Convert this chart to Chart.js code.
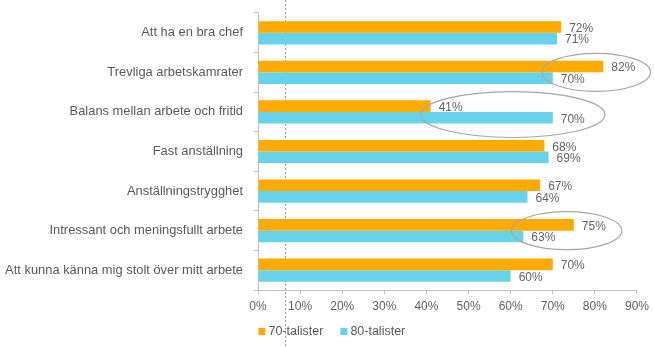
<!DOCTYPE html>
<html>
<head>
<meta charset="utf-8">
<script src="https://cdn.jsdelivr.net/npm/chart.js@4.4.0/dist/chart.umd.min.js"></script>
<style>
html,body{margin:0;padding:0;background:#fff;}
#wrap{width:654px;height:347px;position:relative;}
</style>
</head>
<body>
<div id="wrap"><canvas id="c"></canvas></div>
<script>
// ---- data ----
const categories = [
  'Att ha en bra chef',
  'Trevliga arbetskamrater',
  'Balans mellan arbete och fritid',
  'Fast anställning',
  'Anställningstrygghet',
  'Intressant och meningsfullt arbete',
  'Att kunna känna mig stolt över mitt arbete'
];
const seriesNames = ['70-talister', '80-talister'];
const values70 = [72, 82, 41, 68, 67, 75, 70];
const values80 = [71, 70, 70, 69, 64, 63, 60];
const xTickValues = [0, 10, 20, 30, 40, 50, 60, 70, 80, 90];
const referenceValue = 6.3;          // dotted reference line (in %)
const highlightCategories = [1, 2, 5]; // circled rows

// ---- style ----
const COLORS = ['#FFAA00', '#66D3EB'];
const FONT = 'Liberation Sans, Arial, Helvetica, sans-serif';
const TEXT = '#595959';
const AXIS = '#BFBFBF';

// annotation shapes (in data units), one per highlighted category
const ellipseShapes = [
  {x: 80.3, dy: 0.0,  rx: 12.9, ry: 0.48},
  {x: 60.5, dy: 0.066, rx: 21.9, ry: 0.58},
  {x: 73.3, dy: 0.0,  rx: 13.1, ry: 0.48}
];

const refLinePlugin = {
  id: 'refLine',
  beforeDatasetsDraw(chart) {
    const ctx = chart.ctx, xs = chart.scales.x;
    const x = Math.round(xs.getPixelForValue(referenceValue)) + 0.5;
    ctx.save();
    ctx.strokeStyle = '#9A9A9A';
    ctx.lineWidth = 1;
    ctx.setLineDash([2, 2]);
    ctx.beginPath();
    ctx.moveTo(x, 0);
    ctx.lineTo(x, chart.height);
    ctx.stroke();
    ctx.restore();
  }
};

const valueLabelPlugin = {
  id: 'valueLabels',
  afterDatasetsDraw(chart) {
    const ctx = chart.ctx;
    ctx.save();
    ctx.font = '12px ' + FONT;
    ctx.fillStyle = '#636363';
    ctx.textAlign = 'left';
    ctx.textBaseline = 'middle';
    chart.data.datasets.forEach((ds, di) => {
      const meta = chart.getDatasetMeta(di);
      meta.data.forEach((el, i) => {
        ctx.fillText(ds.data[i] + '%', el.x + 8, el.y + 1.5);
      });
    });
    ctx.restore();
  }
};

const ellipsePlugin = {
  id: 'ellipses',
  afterDraw(chart) {
    const ctx = chart.ctx, xs = chart.scales.x, ys = chart.scales.y;
    const pxPerUnit = xs.getPixelForValue(1) - xs.getPixelForValue(0);
    const catH = ys.getPixelForValue(1) - ys.getPixelForValue(0);
    ctx.save();
    ctx.strokeStyle = '#A6A6A6';
    ctx.lineWidth = 1.2;
    highlightCategories.forEach((cat, k) => {
      const s = ellipseShapes[k];
      const cx = xs.getPixelForValue(s.x);
      const cy = ys.getPixelForValue(cat) + s.dy * catH;
      ctx.beginPath();
      ctx.ellipse(cx, cy, s.rx * pxPerUnit, s.ry * catH, 0, 0, Math.PI * 2);
      ctx.stroke();
    });
    ctx.restore();
  }
};

const legendPlugin = {
  id: 'customLegend',
  afterDraw(chart) {
    const ctx = chart.ctx;
    const yc = 331.5;
    let x = chart.chartArea.left + 0.5;
    ctx.save();
    ctx.font = '12.5px ' + FONT;
    ctx.textBaseline = 'middle';
    ctx.textAlign = 'left';
    chart.data.datasets.forEach((ds) => {
      ctx.fillStyle = ds.backgroundColor;
      ctx.fillRect(x, yc - 3.5, 7, 7);
      ctx.fillStyle = TEXT;
      ctx.fillText(ds.label, x + 10, yc + 0.5);
      x += 10 + ctx.measureText(ds.label).width + 17;
    });
    ctx.restore();
  }
};

new Chart(document.getElementById('c'), {
  type: 'bar',
  data: {
    labels: categories,
    datasets: [
      {label: seriesNames[0], data: values70, backgroundColor: COLORS[0]},
      {label: seriesNames[1], data: values80, backgroundColor: COLORS[1]}
    ]
  },
  options: {
    indexAxis: 'y',
    responsive: true,
    maintainAspectRatio: false,
    animation: false,
    categoryPercentage: 0.586,
    barPercentage: 1.0,
    layout: {padding: {top: 13, right: 17, left: 0, bottom: 0}},
    plugins: {
      legend: {display: false},
      tooltip: {enabled: false}
    },
    scales: {
      x: {
        min: 0, max: 90,
        afterBuildTicks: (s) => { s.ticks = xTickValues.map(v => ({value: v})); },
        afterFit: (s) => { s.height = 57; },
        grid: {drawOnChartArea: false, drawTicks: true, tickLength: 4, color: AXIS},
        border: {color: AXIS, width: 1},
        ticks: {
          callback: (v) => v + '%',
          color: '#5F5F5F',
          font: {family: FONT, size: 12},
          padding: 5,
          maxRotation: 0
        }
      },
      y: {
        afterFit: (s) => { s.width = 258; s.paddingTop = 0; s.paddingBottom = 0; },
        grid: {drawOnChartArea: false, drawTicks: true, tickLength: 4, color: AXIS, offset: true},
        border: {color: AXIS, width: 1},
        ticks: {
          color: TEXT,
          font: {family: FONT, size: 12.9},
          padding: 11
        }
      }
    }
  },
  plugins: [refLinePlugin, valueLabelPlugin, ellipsePlugin, legendPlugin]
});
</script>
</body>
</html>
